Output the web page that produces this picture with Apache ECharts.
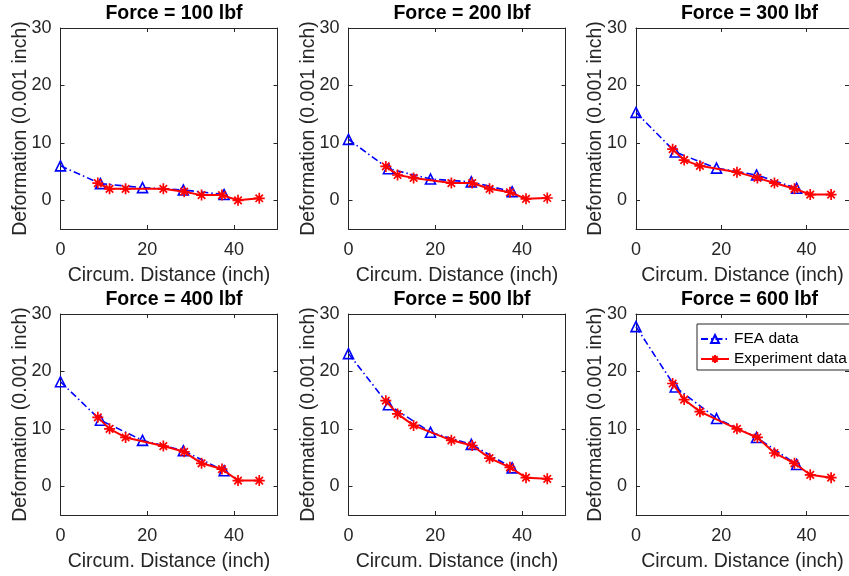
<!DOCTYPE html>
<html>
<head>
<meta charset="utf-8">
<script src="https://cdn.jsdelivr.net/npm/echarts@6/dist/echarts.min.js"></script>
<style>
html,body{margin:0;padding:0;background:#fff;}
#chart{width:849px;height:576px;}
</style>
</head>
<body>
<div id="chart"></div>
<script>
// ---- data ----
const forces = [100, 200, 300, 400, 500, 600];
const feaX = [0, 9.2, 18.9, 28.3, 37.7];
const expX = [8.6, 11.3, 15.0, 23.7, 28.5, 32.5, 37.2, 40.9, 45.8];
const fea100 = [6.0, 2.9, 2.2, 1.8, 1.0];
const fea200 = [10.6, 5.5, 3.7, 3.2, 1.5];
const fea300 = [15.3, 8.4, 5.6, 4.4, 2.1];
const fea400 = [18.2, 11.5, 8.0, 6.2, 2.7];
const fea500 = [23.1, 14.2, 9.4, 7.3, 3.2];
const fea600 = [27.8, 17.3, 11.8, 8.5, 3.8];
const exp100 = [3.0, 2.0, 2.0, 2.0, 1.5, 0.9, 0.9, 0.0, 0.35];
const exp200 = [5.9, 4.4, 3.9, 3.0, 3.0, 2.0, 1.4, 0.25, 0.4];
const exp300 = [8.9, 7.0, 6.0, 4.9, 3.9, 3.0, 2.0, 1.0, 1.0];
const exp400 = [12.0, 10.0, 8.5, 7.0, 6.0, 4.0, 3.0, 1.0, 1.0];
const exp500 = [14.9, 12.6, 10.6, 8.0, 7.1, 4.9, 3.3, 1.5, 1.3];
const exp600 = [17.9, 15.1, 13.0, 10.0, 8.5, 5.8, 4.0, 2.0, 1.5];
const xTicks = [0, 20, 40];
const yTicks = [0, 10, 20, 30];
const xRange = [0, 50];
const yRange = [-5, 30];
const xLabel = 'Circum. Distance (inch)';
const yLabel = 'Deformation (0.001 inch)';
const feaName = 'FEA data';
const expName = 'Experiment data';

const feaAll = [fea100, fea200, fea300, fea400, fea500, fea600];
const expAll = [exp100, exp200, exp300, exp400, exp500, exp600];

// ---- layout ----
const colLeft = [60.5, 348.5, 636];
const plotW = 217;
const rowTop = [28, 314];
const plotH = 201;
const FONT = 'Liberation Sans, Arial, sans-serif';
const TXT = '#262626';
const AX = '#262626';
const asterisk = 'path://M0 5 L10 5 M5 0 L5 10 M1.6 1.6 L8.4 8.4 M8.4 1.6 L1.6 8.4';

const grids = [], xAxes = [], yAxes = [], series = [], titles = [];
forces.forEach((f, i) => {
  const r = Math.floor(i / 3), c = i % 3;
  grids.push({left: colLeft[c], top: rowTop[r], width: plotW, height: plotH, containLabel: false});
  titles.push({
    text: 'Force = ' + f + ' lbf',
    left: colLeft[c] + plotW / 2, top: rowTop[r] - 29,
    textAlign: 'center',
    textStyle: {fontFamily: FONT, fontSize: 19.5, fontWeight: 'bold', color: '#000'}
  });
  const common = {
    gridIndex: i, type: 'value',
    axisLine: {show: true, onZero: false, lineStyle: {color: AX, width: 1}},
    splitLine: {show: false}
  };
  xAxes.push(Object.assign({}, common, {
    position: 'bottom', min: xRange[0], max: xRange[1],
    name: xLabel, nameLocation: 'middle', nameGap: 37,
    nameTextStyle: {fontFamily: FONT, fontSize: 19.5, color: TXT},
    axisTick: {show: true, inside: true, length: 4, lineStyle: {color: AX}, customValues: xTicks},
    axisLabel: {show: true, margin: 12, fontFamily: FONT, fontSize: 18, color: TXT, customValues: xTicks}
  }));
  xAxes.push(Object.assign({}, common, {
    position: 'top', min: xRange[0], max: xRange[1],
    axisTick: {show: true, inside: true, length: 4, lineStyle: {color: AX}, customValues: xTicks},
    axisLabel: {show: false}
  }));
  yAxes.push(Object.assign({}, common, {
    position: 'left', min: yRange[0], max: yRange[1],
    name: yLabel, nameLocation: 'middle', nameGap: 30, nameRotate: 90,
    nameMoveOverlap: false,
    nameTextStyle: {fontFamily: FONT, fontSize: 19.5, color: TXT},
    axisTick: {show: true, inside: true, length: 4, lineStyle: {color: AX}, customValues: yTicks},
    axisLabel: {show: true, margin: 9, fontFamily: FONT, fontSize: 18, color: TXT, customValues: yTicks}
  }));
  yAxes.push(Object.assign({}, common, {
    position: 'right', min: yRange[0], max: yRange[1],
    axisTick: {show: true, inside: true, length: 4, lineStyle: {color: AX}, customValues: yTicks},
    axisLabel: {show: false}
  }));
  series.push({
    name: feaName, type: 'line', xAxisIndex: 2 * i, yAxisIndex: 2 * i,
    data: feaX.map((x, k) => [x, feaAll[i][k]]),
    symbol: 'triangle', symbolSize: 10,
    itemStyle: {color: 'rgba(0,0,0,0)', borderColor: '#0000ff', borderWidth: 1.6},
    lineStyle: {color: '#0000ff', width: 1.6, type: [7, 3, 1.5, 3]},
    z: 2
  });
  series.push({
    name: expName, type: 'line', xAxisIndex: 2 * i, yAxisIndex: 2 * i,
    data: expX.map((x, k) => [x, expAll[i][k]]),
    symbol: asterisk, symbolSize: 11,
    itemStyle: {color: '#ff0000', borderColor: '#ff0000', borderWidth: 1.7},
    lineStyle: {color: '#ff0000', width: 2},
    z: 3
  });
});

const chart = echarts.init(document.getElementById('chart'), null, {renderer: 'canvas'});
chart.setOption({
  animation: false,
  backgroundColor: '#fff',
  title: titles,
  grid: grids,
  xAxis: xAxes,
  yAxis: yAxes,
  legend: {
    data: [feaName, expName],
    orient: 'vertical',
    left: 697, top: 324,
    padding: [6, 30, 2, 3],
    itemWidth: 28, itemHeight: 10, itemGap: 2,
    backgroundColor: '#fff',
    borderColor: '#262626', borderWidth: 1,
    textStyle: {fontFamily: FONT, fontSize: 15.5, color: '#000', lineHeight: 18},
    selectedMode: false
  },
  series: series
});
</script>
</body>
</html>
